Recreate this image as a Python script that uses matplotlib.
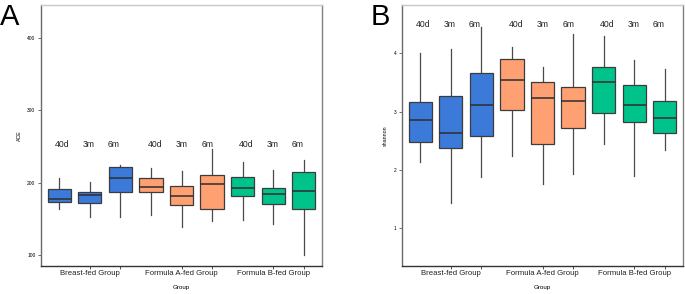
import numpy as np
import matplotlib.pyplot as plt

plt.rcParams['font.family'] = ['Liberation Sans', 'DejaVu Sans']

# === DATA ===
groups = ['Breast-fed Group', 'Formula A-fed Group', 'Formula B-fed Group']
times = ['40d', '3m', '6m']
box_colors = ['#3b7ad9', '#3b7ad9', '#3b7ad9',
              '#ffa072', '#ffa072', '#ffa072',
              '#00c38c', '#00c38c', '#00c38c']

# ACE: whisker low, q1, median, q3, whisker high (per group x time)
ace_low = [163, 152, 152, 156, 139, 147, 148, 143, 100]
ace_q1 = [173, 172, 187, 187, 169, 164, 181, 171, 164]
ace_med = [178, 183, 207, 194, 181, 198, 193, 185, 188]
ace_q3 = [191, 187, 221, 207, 195, 211, 208, 192, 215]
ace_high = [206, 201, 225, 220, 216, 246, 229, 218, 231]

# Shannon
sh_low = [2.14, 1.43, 1.88, 2.24, 1.76, 1.93, 2.45, 1.89, 2.34]
sh_q1 = [2.47, 2.37, 2.58, 3.03, 2.44, 2.72, 2.98, 2.83, 2.64]
sh_med = [2.85, 2.63, 3.12, 3.54, 3.23, 3.18, 3.50, 3.11, 2.89]
sh_q3 = [3.16, 3.27, 3.66, 3.91, 3.50, 3.43, 3.77, 3.46, 3.18]
sh_high = [4.00, 4.07, 4.45, 4.11, 3.76, 4.33, 4.29, 3.88, 3.74]

# time label x offsets relative to box positions
label_shift = [0.1, -0.04, -0.22, 0.15, 0.0, -0.15, 0.1, -0.03, -0.2]


def draw_panel(ax, low, q1, med, q3, high, ylim, yticks, ylabel, label_y):
    positions = np.arange(1, 10)
    stats = []
    for i in range(9):
        stats.append(dict(whislo=low[i], q1=q1[i], med=med[i], q3=q3[i],
                          whishi=high[i], fliers=[]))
    bp = ax.bxp(stats, positions=positions, widths=0.76, patch_artist=True,
                showcaps=False, showfliers=False,
                boxprops=dict(edgecolor='#3c3c3c', linewidth=0.9),
                whiskerprops=dict(color='#4a4a4a', linewidth=0.9),
                medianprops=dict(color='#2e2e2e', linewidth=1.1))
    for patch, c in zip(bp['boxes'], box_colors):
        patch.set_facecolor(c)
        patch.set_zorder(2)
    for w in bp['whiskers']:
        w.set_zorder(1)

    for i in range(9):
        ax.text(positions[i] + label_shift[i], label_y, times[i % 3],
                ha='center', va='center', fontsize=6.2, color='#222222')

    ax.set_xlim(0.4, 9.6)
    ax.set_ylim(*ylim)
    ax.set_yticks(yticks)
    ax.set_xticks([2, 5, 8])
    ax.set_xticklabels(groups, fontsize=5.6, color='#222222')
    ax.set_xticks([3, 6, 9], minor=True)
    ax.tick_params(axis='x', which='both', length=2.5, width=0.6, pad=0.5,
                   color='#333333')
    ax.tick_params(axis='y', length=2, width=0.6, labelsize=3.5, pad=2,
                   color='#555555')
    ax.set_xlabel('Group', fontsize=4.5, labelpad=6)
    ax.set_ylabel(ylabel, fontsize=3.8, labelpad=4)

    ax.spines['top'].set_color('#c8c8c8')
    ax.spines['right'].set_color('#808080')
    ax.spines['left'].set_color('#6a6a6a')
    ax.spines['bottom'].set_color('#333333')
    for s in ax.spines.values():
        s.set_linewidth(1.0)

    return ax


fig = plt.figure(figsize=(6.85, 2.94), dpi=100)
ax1 = fig.add_axes([41 / 685, 28 / 294, 281 / 685, 261 / 294])
ax2 = fig.add_axes([402 / 685, 28 / 294, 281 / 685, 261 / 294])

draw_panel(ax1, ace_low, ace_q1, ace_med, ace_q3, ace_high,
           (85, 445), [100, 200, 300, 400], 'ACE', 253)
draw_panel(ax2, sh_low, sh_q1, sh_med, sh_q3, sh_high,
           (0.35, 4.83), [1, 2, 3, 4], 'shannon', 4.5)

fig.text(0 / 685, 1 - 3 / 294, 'A', fontsize=21, ha='left', va='top')
fig.text(371 / 685, 1 - 3 / 294, 'B', fontsize=21, ha='left', va='top')

fig.savefig('out.png', dpi=100)
